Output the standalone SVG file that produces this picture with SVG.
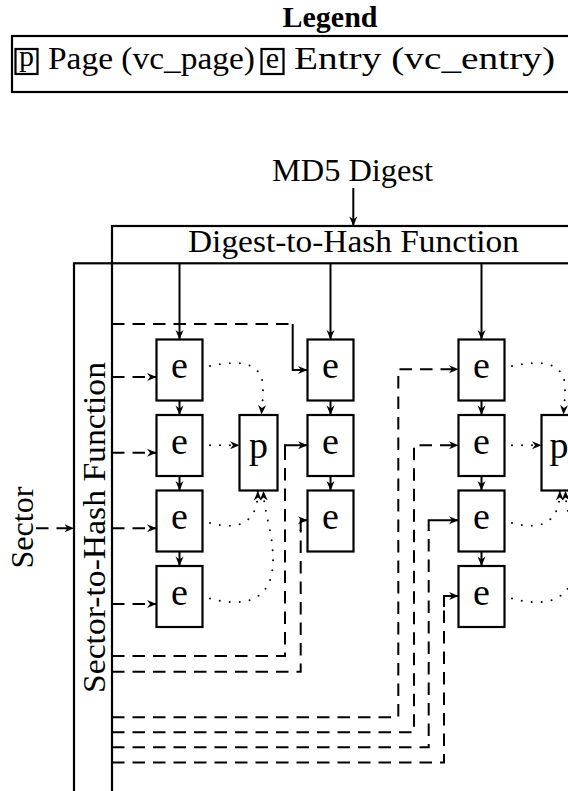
<svg xmlns="http://www.w3.org/2000/svg" width="568" height="791" viewBox="0 0 568 791">
<style>
text { font-family: "Liberation Serif", "DejaVu Serif", serif; fill: #000; }
.lbl { font-size: 31px; }
.ttl { font-size: 30px; font-weight: bold; text-anchor: middle; }
.node { font-size: 38px; text-anchor: middle; }
.lnode { font-size: 30px; text-anchor: middle; }
.box { fill: #fff; stroke: #000; stroke-width: 2.2; }
.frame { fill: none; stroke: #000; stroke-width: 2.2; }
.ln { fill: none; stroke: #000; stroke-width: 2; }
.dash { stroke-dasharray: 12.5 8; }
.dot { fill: none; stroke: #000; stroke-width: 2; stroke-dasharray: 0 10; stroke-linecap: round; }
</style>
<defs>
<marker id="ah" viewBox="-10 -5 11 10" refX="0" refY="0" markerWidth="11" markerHeight="10" markerUnits="userSpaceOnUse" orient="auto">
<path d="M0,0 L-9.5,-4 L-6.5,0 L-9.5,4 Z" fill="#000" stroke="none"/>
</marker>
</defs>

<g id="legend">
<text class="ttl" x="330" y="27">Legend</text>
<rect class="frame" x="12" y="36" width="600" height="56"/>
<rect class="box" x="15.5" y="49" width="22" height="25" stroke-width="1.8"/>
<text class="lnode" x="26.5" y="66">p</text>
<text class="lbl" x="48" y="69" textLength="207" lengthAdjust="spacingAndGlyphs">Page (vc_page)</text>
<rect class="box" x="261.5" y="49" width="22" height="25" stroke-width="1.8"/>
<text class="lnode" x="272.5" y="68">e</text>
<text class="lbl" x="294" y="69" textLength="261" lengthAdjust="spacingAndGlyphs">Entry (vc_entry)</text>
</g>

<g id="md5">
<text class="lbl" x="272" y="181" textLength="161" lengthAdjust="spacingAndGlyphs">MD5 Digest</text>
</g>

<g id="digest-hash">
<rect class="frame" x="112" y="226" width="500" height="37.3"/>
<text class="lbl" x="188" y="252" textLength="331" lengthAdjust="spacingAndGlyphs">Digest-to-Hash Function</text>
</g>

<g id="sector-hash">
<rect class="frame" x="74" y="263.3" width="38" height="600"/>
<text class="lbl" transform="translate(105,527.5) rotate(-90)" x="-165.5" y="0" textLength="331" lengthAdjust="spacingAndGlyphs">Sector-to-Hash Function</text>
</g>

<g id="sector">
<text class="lbl" transform="translate(33,527.5) rotate(-90)" x="-41" y="0" textLength="82" lengthAdjust="spacingAndGlyphs">Sector</text>
</g>

<g id="connectors">
<path class="ln" d="M353.3 188 V226" marker-end="url(#ah)"/>
<path class="ln" d="M179.5 263.3 V339.5" marker-end="url(#ah)"/>
<path class="ln" d="M330.5 263.3 V339.5" marker-end="url(#ah)"/>
<path class="ln" d="M481.5 263.3 V339.5" marker-end="url(#ah)"/>
<path class="ln" d="M179.5 400.5 V415" marker-end="url(#ah)"/>
<path class="ln" d="M179.5 476 V490.5" marker-end="url(#ah)"/>
<path class="ln" d="M179.5 551.5 V566" marker-end="url(#ah)"/>
<path class="ln" d="M330.5 400.5 V415" marker-end="url(#ah)"/>
<path class="ln" d="M330.5 476 V490.5" marker-end="url(#ah)"/>
<path class="ln" d="M481.5 400.5 V415" marker-end="url(#ah)"/>
<path class="ln" d="M481.5 476 V490.5" marker-end="url(#ah)"/>
<path class="ln" d="M481.5 551.5 V566" marker-end="url(#ah)"/>
<path class="ln dash" d="M36 528.3 H74" marker-end="url(#ah)"/>
<path class="ln dash" d="M112 377 H156.5" marker-end="url(#ah)"/>
<path class="ln dash" d="M112 452.7 H156.5" marker-end="url(#ah)"/>
<path class="ln dash" d="M112 528.3 H156.5" marker-end="url(#ah)"/>
<path class="ln dash" d="M112 604 H156.5" marker-end="url(#ah)"/>
<path class="ln dash" d="M112 324 H292.7"/>
<path class="ln" d="M292.7 324 V370 H307.5" marker-end="url(#ah)"/>
<path class="ln dash" d="M112 656 H285 V455"/>
<path class="ln" d="M285 456 V445.3 H307.5" marker-end="url(#ah)"/>
<path class="ln dash" d="M112 671.7 H300.7 V530"/>
<path class="ln" d="M300.7 531 V520.3 H307.5" marker-end="url(#ah)"/>
<path class="ln dash" d="M112 717.3 H398.3 V369.3 H458.5" marker-end="url(#ah)"/>
<path class="ln dash" d="M112 732.3 H414 V445.3 H458.5" marker-end="url(#ah)"/>
<path class="ln dash" d="M112 747.3 H428.7 V530"/>
<path class="ln" d="M428.7 531 V520.3 H458.5" marker-end="url(#ah)"/>
<path class="ln dash" d="M112 762.5 H444 V606"/>
<path class="ln" d="M444 607 V596 H458.5" marker-end="url(#ah)"/>
<g id="dots-col1">
<path class="dot" d="M210 366 C238 360, 263 361, 263 388 C263 400, 262 406, 261.5 414.5" marker-end="url(#ah)"/>
<path class="dot" d="M210 445.3 L239.5 445.3" marker-end="url(#ah)"/>
<path class="dot" d="M210 523 C230 528, 258 530, 257.8 491" marker-end="url(#ah)"/>
<path class="dot" d="M210 598.5 C238 606, 273 606, 273 560 C273 530, 264 515, 263.5 491" marker-end="url(#ah)"/>
</g>
<g id="dots-col3" transform="translate(302,0)">
<path class="dot" d="M210 366 C238 360, 263 361, 263 388 C263 400, 262 406, 261.5 414.5" marker-end="url(#ah)"/>
<path class="dot" d="M210 445.3 L239.5 445.3" marker-end="url(#ah)"/>
<path class="dot" d="M210 523 C230 528, 258 530, 257.8 491" marker-end="url(#ah)"/>
<path class="dot" d="M210 598.5 C238 606, 273 606, 273 560 C273 530, 264 515, 263.5 491" marker-end="url(#ah)"/>
</g>
</g>

<g id="c1e1"><rect class="box" x="156.5" y="339.5" width="46" height="61"/><text class="node" x="179.5" y="378">e</text></g>
<g id="c1e2"><rect class="box" x="156.5" y="415" width="46" height="61"/><text class="node" x="179.5" y="453.5">e</text></g>
<g id="c1e3"><rect class="box" x="156.5" y="490.5" width="46" height="61"/><text class="node" x="179.5" y="529">e</text></g>
<g id="c1e4"><rect class="box" x="156.5" y="566" width="46" height="61"/><text class="node" x="179.5" y="604.5">e</text></g>
<g id="c1p"><rect class="box" x="239.5" y="415" width="38" height="75.5"/><text class="node" x="258.5" y="458">p</text></g>

<g id="c2e1"><rect class="box" x="307.5" y="339.5" width="46" height="61"/><text class="node" x="330.5" y="378">e</text></g>
<g id="c2e2"><rect class="box" x="307.5" y="415" width="46" height="61"/><text class="node" x="330.5" y="453.5">e</text></g>
<g id="c2e3"><rect class="box" x="307.5" y="490.5" width="46" height="61"/><text class="node" x="330.5" y="529">e</text></g>

<g id="c3e1"><rect class="box" x="458.5" y="339.5" width="46" height="61"/><text class="node" x="481.5" y="378">e</text></g>
<g id="c3e2"><rect class="box" x="458.5" y="415" width="46" height="61"/><text class="node" x="481.5" y="453.5">e</text></g>
<g id="c3e3"><rect class="box" x="458.5" y="490.5" width="46" height="61"/><text class="node" x="481.5" y="529">e</text></g>
<g id="c3e4"><rect class="box" x="458.5" y="566" width="46" height="61"/><text class="node" x="481.5" y="604.5">e</text></g>
<g id="c3p"><rect class="box" x="541.5" y="415" width="38" height="75.5"/><text class="node" x="559" y="458">p</text></g>
</svg>
